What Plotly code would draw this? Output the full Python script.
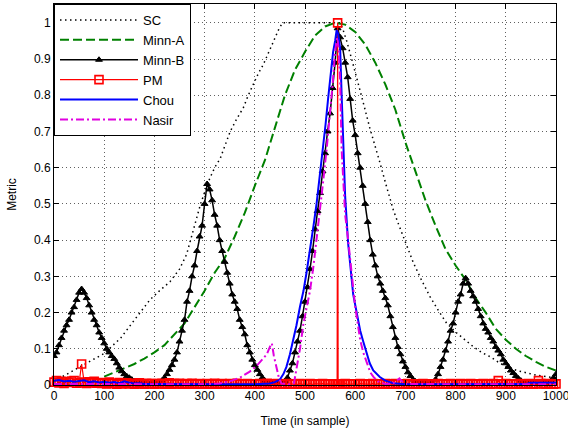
import plotly.graph_objects as go

# ---------------- data ----------------
# SC (black dotted)
sc_t = [0, 25, 50, 75, 100, 133, 166, 191, 210, 231, 250, 264, 278, 292, 307, 320, 331, 341, 351,
        364, 377, 387, 397, 407, 417, 427, 437, 447, 455, 480, 500, 520, 540, 560, 570, 576, 583,
        593, 603, 616, 629, 640, 649, 662, 676, 686, 696, 706, 716, 732, 749, 766, 782, 802, 818,
        835, 852, 869, 885, 902, 922, 942, 961, 981, 1000]
sc_v = [0.010, 0.030, 0.050, 0.068, 0.087, 0.130, 0.190, 0.235, 0.260, 0.285, 0.320, 0.360, 0.430,
        0.500, 0.560, 0.600, 0.625, 0.660, 0.700, 0.735, 0.765, 0.800, 0.830, 0.860, 0.885, 0.915,
        0.948, 0.980, 1.000, 1.000, 1.000, 1.000, 1.000, 1.000, 1.000, 0.980, 0.950, 0.900, 0.850,
        0.780, 0.710, 0.660, 0.615, 0.550, 0.483, 0.445, 0.410, 0.375, 0.337, 0.290, 0.244, 0.205,
        0.171, 0.144, 0.125, 0.106, 0.090, 0.078, 0.063, 0.050, 0.040, 0.033, 0.027, 0.023, 0.020]

# Minn-A (green dashed), sampled every 20 from 100 to 1000
minna_t = list(range(100, 1001, 20))
minna_v = [0.023, 0.034, 0.046, 0.058, 0.073, 0.090, 0.110, 0.140, 0.170, 0.215,
           0.260, 0.310, 0.350, 0.410, 0.475, 0.550, 0.620, 0.710, 0.800, 0.870,
           0.920, 0.965, 0.990, 1.000, 0.995, 0.975, 0.940, 0.890, 0.830, 0.760,
           0.670, 0.590, 0.510, 0.440, 0.375, 0.330, 0.290, 0.240, 0.200, 0.155,
           0.125, 0.100, 0.080, 0.064, 0.050, 0.040]

# Minn-B (black with triangles), sampled every 5 from 0 to 1000
minnb_t = list(range(0, 1001, 5))
minnb_v = [0.080, 0.090, 0.110, 0.130, 0.150, 0.165, 0.180, 0.200, 0.215, 0.235,
           0.255, 0.265, 0.255, 0.240, 0.220, 0.200, 0.180, 0.165, 0.145, 0.130,
           0.115, 0.100, 0.090, 0.080, 0.072, 0.060, 0.048, 0.038, 0.030, 0.024,
           0.020, 0.015, 0.010, 0.008, 0.005, 0.004, 0.003, 0.002, 0.002, 0.002,
           0.002, 0.003, 0.006, 0.012, 0.020, 0.030, 0.042, 0.055, 0.070, 0.090,
           0.120, 0.150, 0.180, 0.230, 0.260, 0.300, 0.330, 0.370, 0.410, 0.440,
           0.500, 0.555, 0.540, 0.510, 0.470, 0.440, 0.400, 0.370, 0.340, 0.310,
           0.280, 0.250, 0.230, 0.210, 0.180, 0.160, 0.140, 0.110, 0.090, 0.070,
           0.055, 0.042, 0.030, 0.020, 0.012, 0.008, 0.005, 0.003, 0.002, 0.002,
           0.003, 0.004, 0.010, 0.020, 0.040, 0.060, 0.090, 0.120, 0.150, 0.190,
           0.230, 0.270, 0.320, 0.370, 0.430, 0.480, 0.530, 0.590, 0.640, 0.700,
           0.750, 0.820, 0.890, 0.985, 0.960, 0.930, 0.890, 0.850, 0.790, 0.730,
           0.690, 0.640, 0.600, 0.550, 0.500, 0.450, 0.400, 0.360, 0.330, 0.300,
           0.280, 0.260, 0.240, 0.220, 0.190, 0.160, 0.130, 0.105, 0.085, 0.065,
           0.050, 0.035, 0.025, 0.015, 0.010, 0.006, 0.004, 0.003, 0.002, 0.002,
           0.003, 0.005, 0.015, 0.030, 0.050, 0.070, 0.095, 0.120, 0.150, 0.170,
           0.200, 0.230, 0.250, 0.280, 0.295, 0.280, 0.260, 0.245, 0.230, 0.210,
           0.190, 0.170, 0.155, 0.145, 0.130, 0.120, 0.105, 0.095, 0.085, 0.070,
           0.060, 0.050, 0.040, 0.033, 0.025, 0.018, 0.012, 0.008, 0.005, 0.004,
           0.003, 0.002, 0.002, 0.002, 0.002, 0.003, 0.004, 0.007, 0.012, 0.020,
           0.030]

# PM (red with squares)
pm_t = list(range(0, 561, 5)) + [564, 565, 566] + list(range(570, 1001, 5))
pm_v = [0.008, 0.012, 0.006, 0.010, 0.004, 0.009, 0.007, 0.011, 0.012, 0.005,
        0.006, 0.058, 0.008, 0.004, 0.009, 0.006, 0.010, 0.005, 0.007, 0.004,
        0.006, 0.003, 0.008, 0.004, 0.005, 0.002, 0.007, 0.003, 0.004, 0.006,
        0.003, 0.005, 0.002, 0.004, 0.006, 0.003, 0.002, 0.005, 0.003, 0.004,
        0.002, 0.004, 0.003, 0.005, 0.002, 0.003, 0.006, 0.002, 0.004, 0.003,
        0.005, 0.002, 0.003, 0.004, 0.002, 0.005, 0.003, 0.002, 0.004, 0.003,
        0.002, 0.004, 0.003, 0.002, 0.005, 0.003, 0.002, 0.004, 0.003, 0.002,
        0.004, 0.002, 0.003, 0.005, 0.002, 0.003, 0.002, 0.004, 0.003, 0.002,
        0.003, 0.002, 0.004, 0.002, 0.003, 0.005, 0.002, 0.003, 0.002, 0.004,
        0.002, 0.003, 0.002, 0.004, 0.003, 0.002, 0.003, 0.002, 0.004, 0.002,
        0.003, 0.002, 0.004, 0.002, 0.003, 0.002, 0.003, 0.004, 0.002, 0.003,
        0.002, 0.003, 0.002,
        0.002, 1.000, 0.002,
        0.003, 0.002, 0.004, 0.002, 0.003, 0.002, 0.003, 0.002, 0.004, 0.003,
        0.002, 0.003, 0.002, 0.004, 0.002, 0.003, 0.002, 0.003, 0.004, 0.002,
        0.003, 0.002, 0.004, 0.003, 0.002, 0.003, 0.002, 0.004, 0.002, 0.003,
        0.002, 0.003, 0.002, 0.004, 0.003, 0.002, 0.003, 0.002, 0.003, 0.004,
        0.002, 0.003, 0.002, 0.003, 0.004, 0.002, 0.003, 0.002, 0.004, 0.003,
        0.002, 0.003, 0.004, 0.002, 0.003, 0.002, 0.003, 0.004, 0.002, 0.003,
        0.002, 0.004, 0.003, 0.012, 0.003, 0.002, 0.004, 0.002, 0.003, 0.002,
        0.003, 0.004, 0.002, 0.003, 0.002, 0.004, 0.003, 0.002, 0.003, 0.012,
        0.004, 0.003, 0.002, 0.004, 0.003, 0.002, 0.003]

# Chou (blue solid)
chou_t = [0, 10, 20, 30, 40, 50, 60, 70, 80, 90, 100, 110, 120, 130, 140, 150, 160, 170, 180,
          200, 250, 300, 350, 400, 420, 430, 440, 450, 457, 463, 470, 477, 483, 490, 497, 503,
          510, 517, 523, 530, 536, 541, 546, 551, 556, 560, 563, 566, 570, 573, 576, 580, 586,
          590, 596, 603, 610, 616, 623, 629, 636, 643, 649, 660, 676, 700, 800, 900, 940, 950,
          1000]
chou_v = [0.012, 0.014, 0.010, 0.012, 0.009, 0.011, 0.013, 0.008, 0.010, 0.007, 0.009, 0.006,
          0.008, 0.005, 0.010, 0.006, 0.004, 0.005, 0.003, 0.003, 0.002, 0.002, 0.002, 0.002,
          0.003, 0.004, 0.008, 0.015, 0.030, 0.050, 0.085, 0.124, 0.165, 0.216, 0.260, 0.310,
          0.370, 0.440, 0.500, 0.580, 0.650, 0.720, 0.790, 0.860, 0.920, 0.950, 0.980, 0.970,
          0.930, 0.800, 0.660, 0.520, 0.390, 0.330, 0.250, 0.200, 0.150, 0.120, 0.085, 0.060,
          0.040, 0.030, 0.022, 0.012, 0.005, 0.002, 0.002, 0.002, 0.003, 0.006, 0.006]

# Nasir (magenta dash-dot)
nasir_t = [0, 100, 200, 300, 330, 350, 370, 390, 405, 415, 424, 430, 434, 438, 443, 448, 453,
           470, 478, 484, 490, 497, 503, 510, 517, 523, 530, 536, 543, 550, 555, 560, 564, 567,
           570, 573, 576, 580, 586, 593, 600, 605, 610, 616, 623, 630, 636, 645, 660, 675, 683,
           688, 693, 700, 800, 1000]
nasir_v = [0.003, 0.002, 0.002, 0.002, 0.004, 0.010, 0.020, 0.037, 0.055, 0.070, 0.085, 0.105,
           0.115, 0.080, 0.050, 0.020, 0.004, 0.002, 0.005, 0.050, 0.100, 0.170, 0.210, 0.260,
           0.330, 0.400, 0.480, 0.560, 0.650, 0.750, 0.830, 0.920, 0.960, 0.930, 0.840, 0.650,
           0.560, 0.470, 0.400, 0.300, 0.216, 0.170, 0.124, 0.090, 0.060, 0.035, 0.023, 0.010,
           0.003, 0.004, 0.012, 0.018, 0.010, 0.003, 0.002, 0.002]

x_ticks = list(range(0, 1001, 100))
y_ticks = [0, 0.1, 0.2, 0.3, 0.4, 0.5, 0.6, 0.7, 0.8, 0.9, 1]
y_tick_text = ["0", "0.1", "0.2", "0.3", "0.4", "0.5", "0.6", "0.7", "0.8", "0.9", "1"]

# ---------------- figure ----------------
FONT = "Liberation Sans, Arial, sans-serif"
fig = go.Figure()

fig.add_trace(go.Scatter(x=sc_t, y=sc_v, name="SC", mode="lines",
                         line=dict(color="#000000", width=1.5, dash="1.5px,3.5px")))
fig.add_trace(go.Scatter(x=minna_t, y=minna_v, name="Minn-A", mode="lines",
                         line=dict(color="#008000", width=2, dash="9px,4px")))
fig.add_trace(go.Scatter(x=minnb_t, y=minnb_v, name="Minn-B", mode="lines+markers",
                         line=dict(color="#000000", width=1.5),
                         marker=dict(symbol="triangle-up", size=6, color="#000000",
                                     line=dict(width=1, color="#000000"))))
fig.add_trace(go.Scatter(x=pm_t, y=pm_v, name="PM", mode="lines+markers", cliponaxis=False,
                         line=dict(color="#FF0000", width=1.2),
                         marker=dict(symbol="square-open", size=8, color="#FF0000",
                                     line=dict(width=1.6, color="#FF0000"))))
fig.add_trace(go.Scatter(x=chou_t, y=chou_v, name="Chou", mode="lines",
                         line=dict(color="#0000FF", width=2)))
fig.add_trace(go.Scatter(x=nasir_t, y=nasir_v, name="Nasir", mode="lines",
                         line=dict(color="#E000E0", width=2, dash="8px,3px,2px,3px")))

axis_common = dict(showline=True, linecolor="#000000", linewidth=1, mirror="ticks",
                   ticks="inside", ticklen=5, tickcolor="#000000", showgrid=True,
                   gridcolor="#606060", gridwidth=1, griddash="1px,3px", zeroline=False,
                   automargin=False, ticklabeloverflow="allow",
                   tickfont=dict(family=FONT, size=12, color="#000000"))

fig.update_xaxes(range=[0, 1000], tickvals=x_ticks,
                 title=dict(text="Time (in sample)", font=dict(family=FONT, size=12, color="#000000"),
                            standoff=14),
                 **axis_common)
fig.update_yaxes(range=[0, 1.052], tickvals=y_ticks, ticktext=y_tick_text,
                 title=dict(text="Metric", font=dict(family=FONT, size=12, color="#000000"),
                            standoff=14),
                 **axis_common)

fig.update_layout(
    width=568, height=435,
    margin=dict(l=54, r=12, t=4, b=50, autoexpand=False),
    paper_bgcolor="#FFFFFF", plot_bgcolor="#FFFFFF",
    font=dict(family=FONT, size=12, color="#000000"),
    legend=dict(x=0, y=1, xanchor="left", yanchor="top", bgcolor="#FFFFFF",
                bordercolor="#000000", borderwidth=1, itemwidth=78,
                font=dict(family=FONT, size=13, color="#000000"),
                tracegroupgap=0),
    showlegend=True,
)

fig.write_html("out.html", config={"displayModeBar": False},
               post_script="document.body.style.margin='0';document.body.style.overflow='hidden';")
